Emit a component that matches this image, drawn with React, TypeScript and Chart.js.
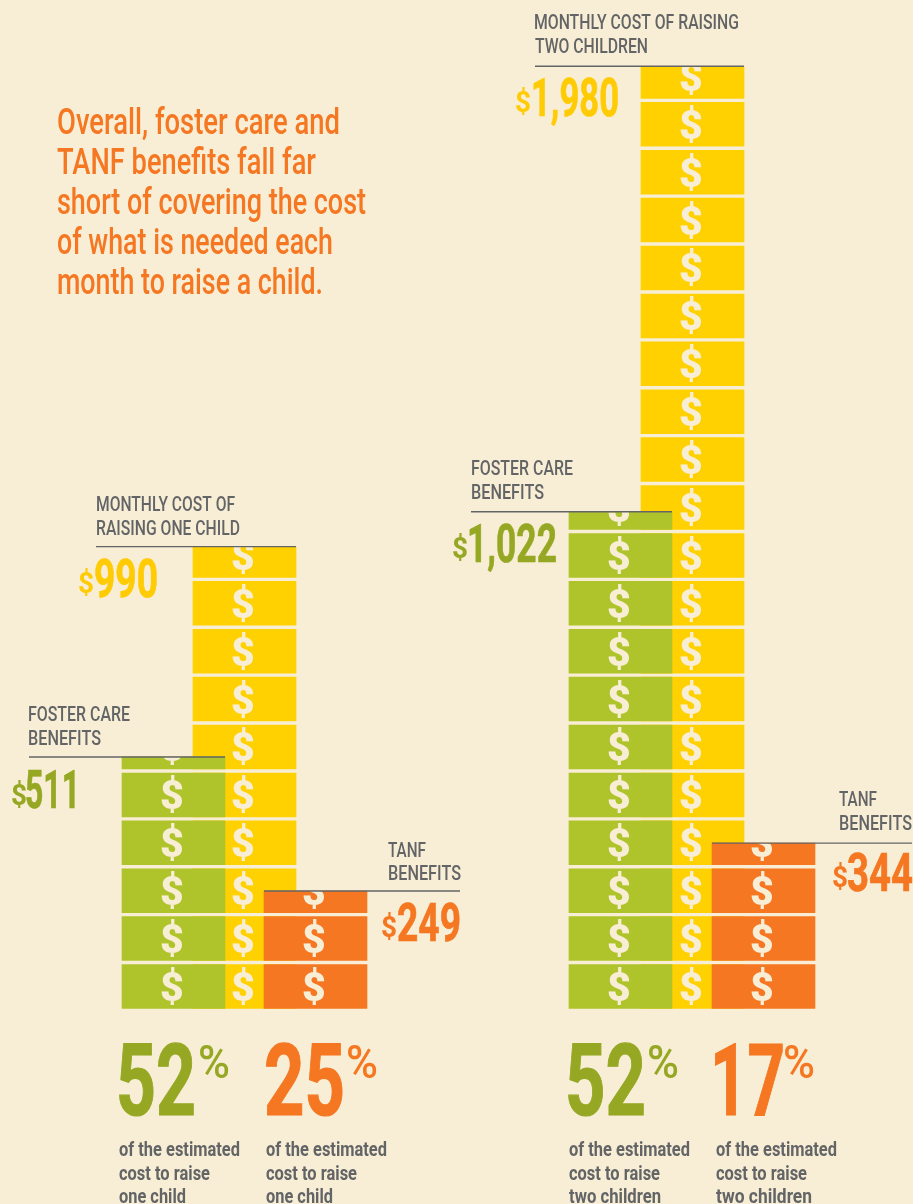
import React, { useEffect, useRef } from "react";
import { Chart, registerables } from "chart.js";

Chart.register(...registerables);

// ---- data ----
const costAmounts = ["$990", "$1,980"];
const fosterAmounts = ["$511", "$1,022"];
const tanfAmounts = ["$249", "$344"];
const fosterShares = ["52", "52"];
const tanfShares = ["25", "17"];
// drawn stack heights (one cell = 100 units, as in the pictogram)
const costHeights = [964, 1967];
const fosterHeights = [525, 1037];
const tanfHeights = [245, 345];

const headline = [
  "Overall, foster care and",
  "TANF benefits fall far",
  "short of covering the cost",
  "of what is needed each",
  "month to raise a child.",
];

// ---- layout ----
const W = 913;
const H = 1204;
const BASE_PX = 1008.4;
const PX_PER_UNIT = 0.479;
const CELL = 100;
const CELL_FILL = 91.5;
const BAR_W = 103;
const costX = [244.5, 692.5];
const fosterX = [173.5, 620.5];
const tanfX = [315.5, 763.5];

const BG = "#F8EED6";
const YELLOW = "#FFD100";
const YELLOW_TEXT = "#FFCB05";
const GREEN = "#AFC42A";
const GREEN_TEXT = "#96A823";
const ORANGE = "#F57722";
const GREY = "#636466";
const SANS = `Roboto, sans-serif`;

function cells(x: number, height: number) {
  const out: { x: number; y: [number, number] }[] = [];
  for (let lo = 0; lo < height; lo += CELL) {
    out.push({ x, y: [lo, Math.min(lo + CELL_FILL, height)] });
  }
  return out;
}
function seriesCells(xs: number[], hs: number[]) {
  return xs.flatMap((x, i) => cells(x, hs[i]));
}

type T = [string, number, number, number, string, string, number?];
const F_HEAD = `500 36px ${SANS}`;
const F_LABEL = `500 21px ${SANS}`;
const F_BODY = `700 20px ${SANS}`;
const F_AMT = `700 53px ${SANS}`;
const F_SIGN = `700 30px ${SANS}`;
const F_BIG = `700 101px ${SANS}`;
const F_PCT = `500 46px ${SANS}`;

const texts: T[] = [
  [headline[0], 57, 134, 283, F_HEAD, ORANGE],
  [headline[1], 57, 174, 259, F_HEAD, ORANGE],
  [headline[2], 57, 214, 309, F_HEAD, ORANGE],
  [headline[3], 57, 254, 276, F_HEAD, ORANGE],
  [headline[4], 57, 294, 266, F_HEAD, ORANGE],

  ["MONTHLY COST OF", 96, 511, 139, F_LABEL, GREY],
  ["RAISING ONE CHILD", 96, 535, 144, F_LABEL, GREY],
  ["FOSTER CARE", 28, 721, 102, F_LABEL, GREY],
  ["BENEFITS", 28, 745, 73, F_LABEL, GREY],
  ["TANF", 388, 857, 38, F_LABEL, GREY],
  ["BENEFITS", 388, 880, 73, F_LABEL, GREY],
  ["MONTHLY COST OF RAISING", 534, 29, 205, F_LABEL, GREY],
  ["TWO CHILDREN", 535, 53, 113, F_LABEL, GREY],
  ["FOSTER CARE", 471, 475, 102, F_LABEL, GREY],
  ["BENEFITS", 471, 499, 73, F_LABEL, GREY],
  ["TANF", 839, 806, 38, F_LABEL, GREY],
  ["BENEFITS", 839, 830, 73, F_LABEL, GREY],

  ["$", 78, 593, 16, F_SIGN, YELLOW_TEXT],
  [costAmounts[0].slice(1), 94, 597, 64, F_AMT, YELLOW_TEXT, 0.7],
  ["$", 11, 805, 16, F_SIGN, GREEN_TEXT],
  [fosterAmounts[0].slice(1), 25, 808, 55, F_AMT, GREEN_TEXT, 0.7],
  ["$", 381, 937, 16, F_SIGN, ORANGE],
  [tanfAmounts[0].slice(1), 397, 941, 64, F_AMT, ORANGE, 0.7],
  ["$", 515, 112, 16, F_SIGN, YELLOW_TEXT],
  [costAmounts[1].slice(1), 531, 116, 88, F_AMT, YELLOW_TEXT, 0.7],
  ["$", 452, 558, 16, F_SIGN, GREEN_TEXT],
  [fosterAmounts[1].slice(1), 467, 562, 90, F_AMT, GREEN_TEXT, 0.7],
  ["$", 832, 887, 16, F_SIGN, ORANGE],
  [tanfAmounts[1].slice(1), 847, 891, 66, F_AMT, ORANGE, 0.7],

  [fosterShares[0], 116, 1115, 80, F_BIG, GREEN_TEXT, 1.2],
  ["%", 198, 1078, 32, F_PCT, GREEN_TEXT],
  [tanfShares[0], 264, 1115, 81, F_BIG, ORANGE, 1.2],
  ["%", 346, 1078, 32, F_PCT, ORANGE],
  [fosterShares[1], 565, 1115, 81, F_BIG, GREEN_TEXT, 1.2],
  ["%", 647, 1078, 32, F_PCT, GREEN_TEXT],
  [tanfShares[1], 710, 1115, 75, F_BIG, ORANGE, 1.2],
  ["%", 783, 1078, 32, F_PCT, ORANGE],

  ["of the estimated", 119, 1156, 121, F_BODY, GREY],
  ["cost to raise", 119, 1180, 91, F_BODY, GREY],
  ["one child", 119, 1203, 67, F_BODY, GREY],
  ["of the estimated", 266, 1156, 121, F_BODY, GREY],
  ["cost to raise", 266, 1180, 91, F_BODY, GREY],
  ["one child", 266, 1203, 67, F_BODY, GREY],
  ["of the estimated", 569, 1156, 121, F_BODY, GREY],
  ["cost to raise", 569, 1180, 91, F_BODY, GREY],
  ["two children", 569, 1203, 92, F_BODY, GREY],
  ["of the estimated", 716, 1156, 121, F_BODY, GREY],
  ["cost to raise", 716, 1180, 91, F_BODY, GREY],
  ["two children", 716, 1203, 96, F_BODY, GREY],
];

// leader rules: [left edge of line in x units, right edge, stack height]
const rules: [number, number, number][] = [
  [96, 296, costHeights[0]],
  [29, 225, fosterHeights[0]],
  [264, 460, tanfHeights[0]],
  [535, 744, costHeights[1]],
  [471, 672, fosterHeights[1]],
  [712, 912, tanfHeights[1]],
];

const overlay = {
  id: "overlay",
  afterDatasetsDraw(chart: any) {
    const ctx = chart.ctx;
    const { x: xs, y: ys } = chart.scales;
    // dollar sign in each cell, centred on the full cell and clipped to the cell
    chart.data.datasets.forEach((ds: any, di: number) => {
      const meta = chart.getDatasetMeta(di);
      meta.data.forEach((bar: any, i: number) => {
        const raw = ds.data[i];
        const [lo, hi] = raw.y;
        const cx = xs.getPixelForValue(raw.x) - 1.5;
        const cy = ys.getPixelForValue(lo + CELL_FILL / 2);
        ctx.save();
        ctx.beginPath();
        ctx.rect(bar.x - BAR_W / 2, ys.getPixelForValue(hi), BAR_W, ys.getPixelForValue(lo) - ys.getPixelForValue(hi));
        ctx.clip();
        ctx.fillStyle = BG;
        ctx.font = `900 41px ${SANS}`;
        ctx.textAlign = "center";
        ctx.textBaseline = "alphabetic";
        ctx.fillText("$", cx, cy + 14.5, 25);
        ctx.restore();
      });
    });
    // rules
    ctx.save();
    ctx.strokeStyle = GREY;
    ctx.lineWidth = 1.4;
    rules.forEach(([a, b, h]) => {
      const y = ys.getPixelForValue(h);
      ctx.beginPath();
      ctx.moveTo(xs.getPixelForValue(a), y);
      ctx.lineTo(xs.getPixelForValue(b), y);
      ctx.stroke();
    });
    ctx.restore();
    // texts
    ctx.save();
    ctx.textAlign = "left";
    ctx.textBaseline = "alphabetic";
    texts.forEach(([s, x, y, w, font, color, thicken]) => {
      ctx.font = font;
      ctx.fillStyle = color;
      ctx.fillText(s, x, y, w);
      if (thicken) {
        ctx.strokeStyle = color;
        ctx.lineWidth = thicken;
        ctx.strokeText(s, x, y, w);
      }
    });
    ctx.restore();
  },
};

export default function App() {
  const ref = useRef<HTMLCanvasElement>(null);
  useEffect(() => {
    const chart = new Chart(ref.current as HTMLCanvasElement, {
      type: "bar",
      data: {
        datasets: [
          { label: "TANF benefits", data: seriesCells(tanfX, tanfHeights) as any, backgroundColor: ORANGE, grouped: false, barThickness: BAR_W },
          { label: "Foster care benefits", data: seriesCells(fosterX, fosterHeights) as any, backgroundColor: GREEN, grouped: false, barThickness: BAR_W },
          { label: "Monthly cost", data: seriesCells(costX, costHeights) as any, backgroundColor: YELLOW, grouped: false, barThickness: BAR_W },
        ],
      },
      options: {
        animation: false,
        responsive: false,
        layout: { padding: 0 },
        plugins: { legend: { display: false }, tooltip: { enabled: false }, title: { display: false } },
        scales: {
          x: { type: "linear", min: 0, max: W, display: false, offset: false },
          y: { type: "linear", min: -(H - BASE_PX) / PX_PER_UNIT, max: BASE_PX / PX_PER_UNIT, display: false },
        },
      },
      plugins: [overlay],
    });
    return () => chart.destroy();
  }, []);
  return (
    <div style={{ position: "absolute", left: 0, top: 0, width: W, height: H, background: BG, overflow: "hidden" }}>
      <canvas ref={ref} width={W} height={H} style={{ display: "block" }} />
    </div>
  );
}
